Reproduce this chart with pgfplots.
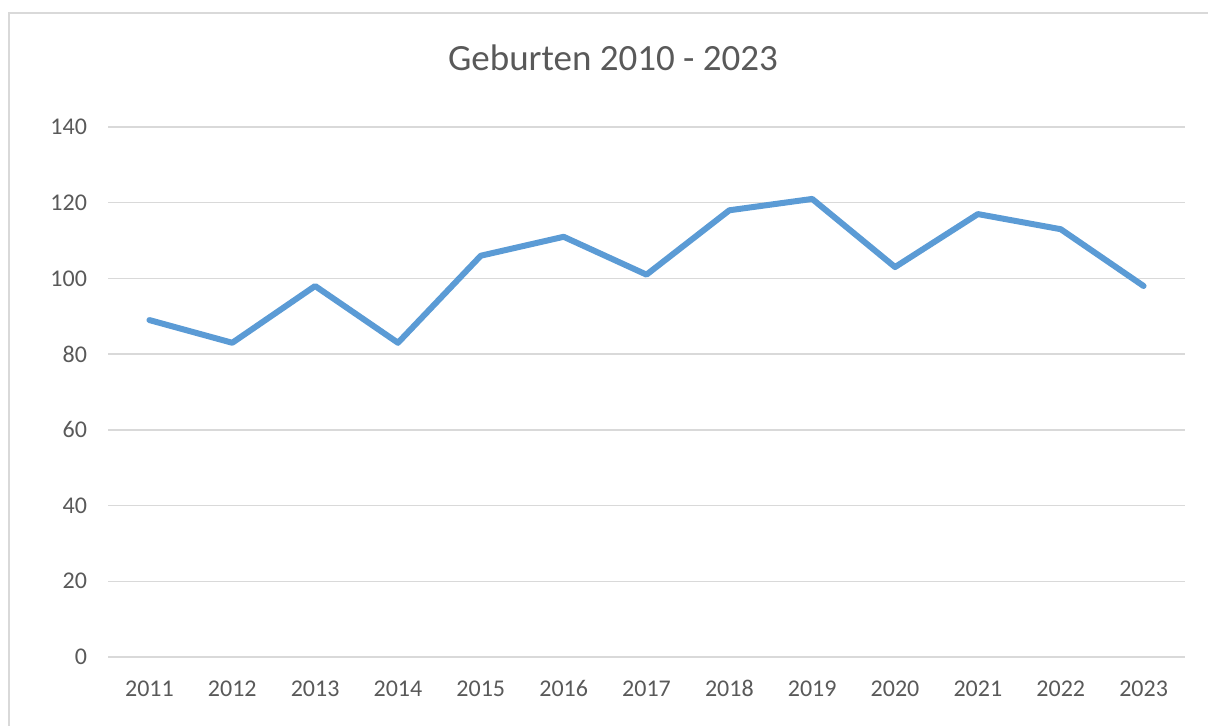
\documentclass[border=0pt]{standalone}
\usepackage{pgfplots}
\pgfplotsset{compat=1.18}
\usepackage{fontspec}
\setmainfont{Carlito}
\definecolor{txt}{HTML}{595959}
\definecolor{gridc}{HTML}{D9D9D9}
\definecolor{line}{HTML}{5B9BD5}
\begin{document}
\begin{tikzpicture}
\path[use as bounding box] (0,0) rectangle (604pt,362.5pt);
\draw[gridc, line width=1pt] (4.5pt,-10pt) rectangle (620pt,356pt);
\node[txt, font=\fontsize{18.5}{22}\selectfont] at (306.5pt,333.5pt) {Geburten 2010 - 2023};
\begin{axis}[
  at={(54pt,34pt)}, anchor=south west,
  scale only axis, width=538.5pt, height=265pt,
  xmin=-0.5, xmax=12.5, ymin=0, ymax=140,
  xtick={0,...,12},
  xticklabels={2011,2012,2013,2014,2015,2016,2017,2018,2019,2020,2021,2022,2023},
  ytick={0,20,...,140},
  ymajorgrids, grid style={gridc, line width=0.75pt},
  axis line style={draw=none},
  major tick length=0pt,
  tick label style={txt, font=\fontsize{12}{14}\selectfont},
  /pgf/number format/assume math mode=true,
  yticklabel style={xshift=-7pt},
  xticklabel style={text height=8pt, text depth=0pt, yshift=-8pt},
  clip=false,
]
\addplot[line, line width=3pt, line join=round, line cap=round] coordinates {
(0,89) (1,83) (2,98) (3,83) (4,106) (5,111) (6,101) (7,118) (8,121) (9,103) (10,117) (11,113) (12,98)
};
\end{axis}
\end{tikzpicture}
\end{document}
